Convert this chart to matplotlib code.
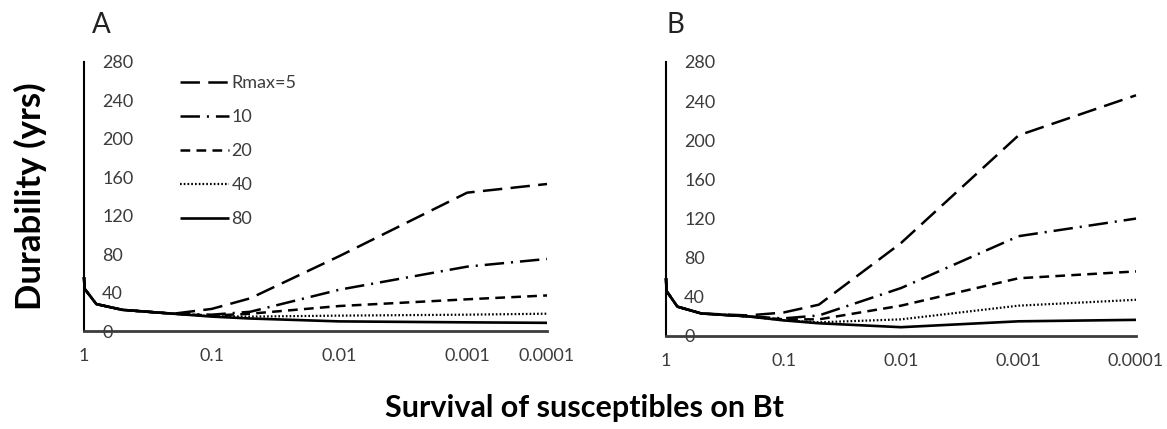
import numpy as np
import matplotlib
matplotlib.use("Agg")
import matplotlib.pyplot as plt
from matplotlib.ticker import FixedLocator, FixedFormatter

plt.rcParams['font.family'] = ['Lato', 'DejaVu Sans']
plt.rcParams['lines.scale_dashes'] = False

# ---- data ----
survival = [1, 0.99, 0.8, 0.5, 0.2, 0.1, 0.05, 0.01, 0.001, 0.0001]
tick_vals = [1, 0.1, 0.01, 0.001, 0.0001]
tick_labels = ["1", "0.1", "0.01", "0.001", "0.0001"]
y_ticks = [0, 40, 80, 120, 160, 200, 240, 280]
legend_labels = ["Rmax=5", "10", "20", "40", "80"]

A_r5 = [56, 44, 28, 22, 18, 23, 34, 78, 144, 153]
A_r10 = [56, 44, 28, 22, 18, 17, 20, 43, 67, 75]
A_r20 = [56, 44, 28, 22, 18, 16, 18, 26, 33, 37]
A_r40 = [56, 44, 28, 22, 18, 15.5, 15, 16, 17, 18]
A_r80 = [56, 44, 28, 22, 18, 15, 13, 10, 9, 8.5]

B_r5 = [59, 46, 30, 23, 21, 24, 32, 95, 205, 246]
B_r10 = [59, 46, 30, 23, 20, 18, 21, 49, 102, 120]
B_r20 = [59, 46, 30, 23, 20, 17, 17, 31, 59, 66]
B_r40 = [59, 46, 30, 23, 20, 16, 14, 17, 31, 37]
B_r80 = [59, 46, 30, 23, 20, 16, 13, 9, 15, 16.5]

styles = [
    dict(lw=1.8, dashes=(14, 6)),
    dict(lw=1.8, dashes=(14, 5, 1.5, 5)),
    dict(lw=1.8, dashes=(7, 4.5)),
    dict(lw=1.6, dashes=(1.2, 1.5)),
    dict(lw=1.9, linestyle='-'),
]


def make_scale(k):
    # increasing in x; log-like, with the last decade compressed by k
    def fwd(x):
        x = np.asarray(x, dtype=float)
        d = -np.log10(np.clip(x, 1e-12, None))
        return -np.where(d <= 3, d, 3 + (d - 3) * k)

    def inv(p):
        p = -np.asarray(p, dtype=float)
        d = np.where(p <= 3, p, 3 + (p - 3) / k)
        return 10.0 ** (-d)
    return fwd, inv


fig = plt.figure(figsize=(11.67, 4.29), dpi=100)
W, H = 1167, 429

def add_ax(left, right, top, bottom):
    return fig.add_axes([left / W, 1 - bottom / H, (right - left) / W, (bottom - top) / H])

axA = add_ax(84, 547, 62, 331)
axB = add_ax(666, 1136, 62, 336)

gray = '#3c3c3c'
for ax, series, k, letter, lx in [
    (axA, [A_r5, A_r10, A_r20, A_r40, A_r80], 0.625, "A", 101),
    (axB, [B_r5, B_r10, B_r20, B_r40, B_r80], 1.0, "B", 675),
]:
    ax.set_xscale('function', functions=make_scale(k))
    for vals, st, lab in zip(series, styles, legend_labels):
        ax.plot(survival, vals, color='black', label=lab, clip_on=False,
                solid_capstyle='butt', dash_capstyle='butt', **st)
    ax.set_xlim(1, 0.0001)
    ax.set_ylim(0, 280)
    ax.xaxis.set_major_locator(FixedLocator(tick_vals))
    ax.xaxis.set_major_formatter(FixedFormatter(tick_labels))
    ax.xaxis.set_minor_locator(FixedLocator([]))
    ax.set_yticks(y_ticks)
    ax.set_yticklabels([str(v) for v in y_ticks])
    for s in ['top', 'right']:
        ax.spines[s].set_visible(False)
    ax.spines['left'].set_color('black')
    ax.spines['left'].set_linewidth(1.5)
    ax.spines['bottom'].set_color(gray)
    ax.spines['bottom'].set_linewidth(2.0)
    ax.tick_params(axis='x', length=0, pad=12, labelsize=13, labelcolor=gray)
    ax.tick_params(axis='y', length=0, pad=-13, labelsize=13, labelcolor=gray)
    for t in ax.get_yticklabels():
        t.set_horizontalalignment('left')
    ax.patch.set_alpha(0)
    fig.text(lx / W, 1 - 25 / H, letter, fontsize=20, color='#222222',
             ha='center', va='center')

leg = axA.legend(loc='upper left', bbox_to_anchor=(0.207, 0.952), frameon=False,
                 handlelength=2.7, handletextpad=0.15, labelspacing=1.0,
                 borderpad=0, borderaxespad=0, fontsize=13)
for t in leg.get_texts():
    t.set_color(gray)

fig.text(30 / W, 1 - 196 / H, "Durability (yrs)", rotation=90, fontsize=25,
         fontweight='bold', ha='center', va='center', color='black')
fig.text(584 / W, 1 - 408 / H, "Survival of susceptibles on Bt", fontsize=22,
         fontweight='bold', ha='center', va='center', color='black')

fig.savefig("out.png", dpi=100)
